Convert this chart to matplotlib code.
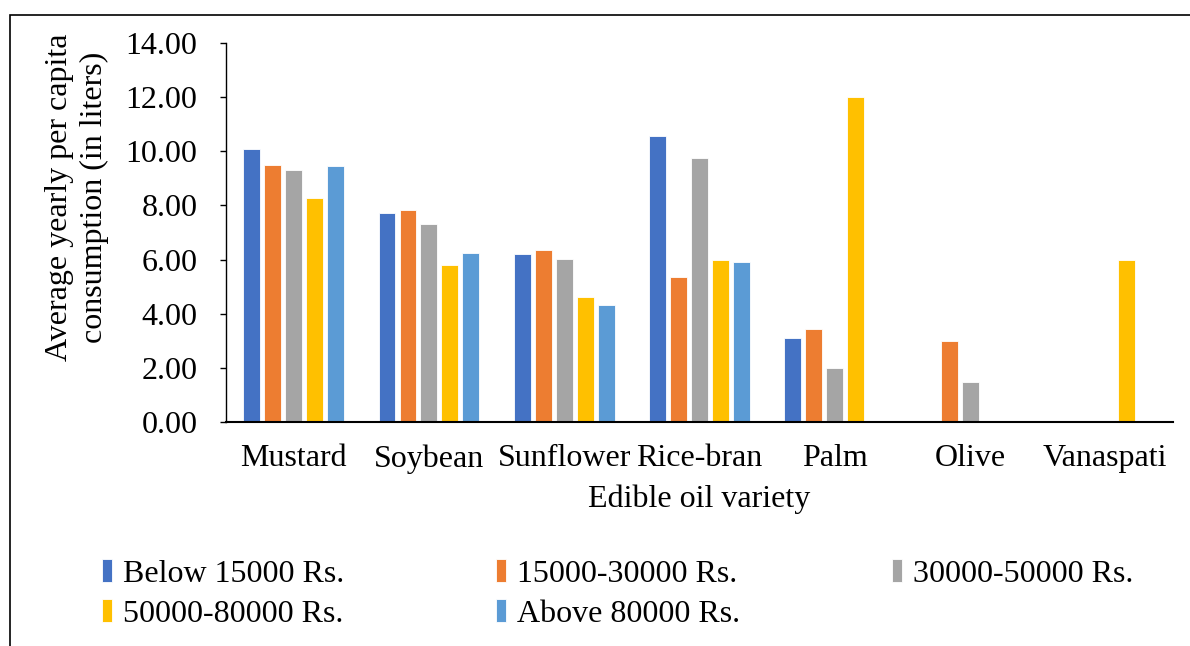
import numpy as np
import matplotlib.pyplot as plt
from matplotlib.patches import Rectangle

varieties = ['Mustard', 'Soybean', 'Sunflower', 'Rice-bran', 'Palm', 'Olive', 'Vanaspati']
groups = ['Below 15000 Rs.', '15000-30000 Rs.', '30000-50000 Rs.',
          '50000-80000 Rs.', 'Above 80000 Rs.']
below_15000 = [10.07, 7.71, 6.22, 10.55, 3.12, 0, 0]
r15000_30000 = [9.48, 7.82, 6.37, 5.36, 3.42, 2.98, 0]
r30000_50000 = [9.30, 7.33, 6.01, 9.74, 1.98, 1.49, 0]
r50000_80000 = [8.29, 5.79, 4.62, 6.00, 12.00, 0, 6.00]
above_80000 = [9.45, 6.26, 4.34, 5.91, 0, 0, 0]
colors = ['#4472C4', '#ED7D31', '#A5A5A5', '#FFC000', '#5B9BD5']

plt.rcParams['font.family'] = ['Liberation Serif', 'DejaVu Serif']
fs = 23

fig = plt.figure(figsize=(11.9, 6.46), dpi=100)
ax = fig.add_axes([226 / 1190, 1 - 422 / 646, 947 / 1190, 379 / 646])

x = np.arange(len(varieties))
series = [below_15000, r15000_30000, r30000_50000, r50000_80000, above_80000]
step = 0.155
width = 0.125
bars = []
for i, (vals, name, c) in enumerate(zip(series, groups, colors)):
    b = ax.bar(x + (i - 2) * step, vals, width, color=c, label=name,
               edgecolor='white', linewidth=0.6)
    bars.append(b)

ax.set_xlim(-0.5, len(varieties) - 0.5)
ax.set_ylim(0, 14)
ax.set_yticks(np.arange(0, 15, 2))
ax.set_yticklabels(['%.2f' % v for v in np.arange(0, 15, 2)], fontsize=fs)
ax.set_xticks(x)
ax.set_xticklabels(varieties, fontsize=fs)
ax.tick_params(axis='x', length=0, pad=16)
ax.tick_params(axis='y', length=4.5, width=1, pad=16)
for s in ['top', 'right']:
    ax.spines[s].set_visible(False)
ax.spines['left'].set_linewidth(1)
ax.spines['bottom'].set_linewidth(1.5)
ax.set_xlabel('Edible oil variety', fontsize=fs, labelpad=8)

fig.text(77 / 1190, 1 - 197 / 646, 'Average yearly per capita\nconsumption (in liters)',
         rotation=90, fontsize=fs, ha='center', va='center', linespacing=1.25)

# row-major order for a 3-column legend
order = [0, 3, 1, 4, 2]
fig.legend([bars[i] for i in order], [groups[i] for i in order],
           loc='center', bbox_to_anchor=(0.075, 1 - 594 / 646, 0.888, 0.0),
           mode='expand', ncol=3, frameon=False, fontsize=fs,
           handlelength=0.3, handleheight=0.7, handletextpad=0.35,
           labelspacing=0.33, borderaxespad=0)

fig.patches.append(Rectangle((10 / 1190, -0.1), 1.2, 1.1 - 15 / 646,
                             transform=fig.transFigure, fill=False,
                             edgecolor='black', linewidth=1.2))

fig.savefig('out.png', dpi=100)
